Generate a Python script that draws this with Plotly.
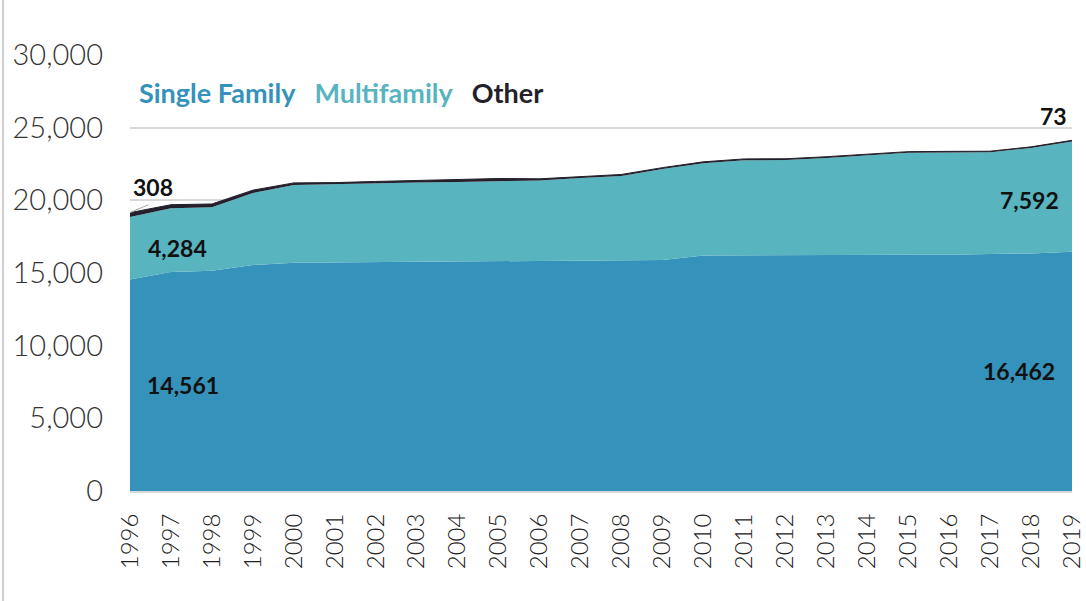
import plotly.graph_objects as go

years = list(range(1996, 2020))
single_family = [14561, 15070, 15150, 15550, 15700, 15720, 15750, 15770, 15800, 15820, 15830, 15840,
                 15850, 15900, 16200, 16220, 16230, 16240, 16250, 16250, 16260, 16300, 16350, 16462]
multifamily = [4284, 4380, 4370, 4950, 5350, 5370, 5410, 5450, 5470, 5510, 5530, 5700,
               5820, 6250, 6360, 6540, 6540, 6680, 6870, 7020, 7030, 7000, 7255, 7592]
other = [308, 250, 230, 200, 150, 130, 140, 160, 180, 170, 120, 110,
         110, 100, 90, 90, 90, 80, 80, 80, 80, 80, 75, 73]
y_ticks = [0, 5000, 10000, 15000, 20000, 25000, 30000]

C_SF = "#3592BA"
C_MF = "#58B4BF"
C_OT = "#231F2B"
LABEL_FONT = dict(family="Lato", size=23, color="#111111", weight="bold")

fig = go.Figure()
fig.add_trace(go.Scatter(x=years, y=single_family, stackgroup="a", mode="lines",
                         line=dict(width=0, color=C_SF), fillcolor=C_SF, name="Single Family"))
fig.add_trace(go.Scatter(x=years, y=multifamily, stackgroup="a", mode="lines",
                         line=dict(width=0, color=C_MF), fillcolor=C_MF, name="Multifamily"))
fig.add_trace(go.Scatter(x=years, y=other, stackgroup="a", mode="lines",
                         line=dict(width=1, color=C_OT), fillcolor=C_OT, name="Other"))

def fmt(v):
    return f"{v:,}"

tot0 = single_family[0] + multifamily[0] + other[0]
totN = single_family[-1] + multifamily[-1] + other[-1]
anns = [
    dict(x=years[0] + 1.3, y=single_family[0] / 2, text=fmt(single_family[0])),
    dict(x=years[-1] - 1.3, y=single_family[-1] / 2, text=fmt(single_family[-1])),
    dict(x=years[0] + 1.15, y=single_family[0] + multifamily[0] * 0.5, text=fmt(multifamily[0])),
    dict(x=years[-1] - 1.05, y=single_family[-1] + multifamily[-1] * 0.47, text=fmt(multifamily[-1])),
    dict(x=years[0] + 0.55, y=tot0 + 1750, text=fmt(other[0])),
    dict(x=years[-1] - 0.45, y=totN + 1650, text=fmt(other[-1])),
]
annotations = [dict(xref="x", yref="y", showarrow=False, font=LABEL_FONT, **a) for a in anns]

sp = "&nbsp;" * 3
annotations.append(dict(
    xref="paper", yref="paper", x=0.0074, y=0.915, xanchor="left", yanchor="middle", showarrow=False,
    text=(f"<span style='color:{C_SF}'>Single Family</span>{sp}"
          f"<span style='color:{C_MF}'>Multifamily</span>{sp}"
          f"<span style='color:{C_OT}'>Other</span>"),
    font=dict(family="Lato", size=27, weight="bold"),
))

shapes = [
    dict(type="line", xref="paper", yref="paper", x0=-0.1348, x1=-0.1348, y0=-0.26, y1=1.13,
         line=dict(color="#BFBFBF", width=1.5)),
    dict(type="line", xref="x", yref="y", x0=years[0], y0=tot0, x1=years[0] + 0.45, y1=tot0 + 550,
         line=dict(color="#A6A6A6", width=1)),
]

fig.update_layout(
    width=1086, height=601,
    margin=dict(l=130, r=14, t=55, b=110),
    paper_bgcolor="white", plot_bgcolor="white",
    showlegend=False,
    annotations=annotations,
    shapes=shapes,
    xaxis=dict(range=[years[0], years[-1]], tickmode="array", tickvals=years,
               ticktext=[str(y) for y in years], tickangle=-90, showgrid=False,
               showline=True, linecolor="#D9D9D9", linewidth=2, ticks="",
               ticklabelstandoff=11, automargin=False,
               tickfont=dict(family="Lato", size=24, color="#222222", weight=300)),
    yaxis=dict(range=[0, 30000], tickmode="array", tickvals=y_ticks,
               ticktext=[fmt(v) for v in y_ticks], showgrid=True, gridcolor="#D9D9D9",
               gridwidth=2, zeroline=False, ticks="", ticklabelstandoff=26, automargin=False,
               tickfont=dict(family="Lato", size=29, color="#333333", weight=300)),
)

fig.write_html("out.html", config={"displayModeBar": False},
               post_script="document.body.style.margin='0';")
